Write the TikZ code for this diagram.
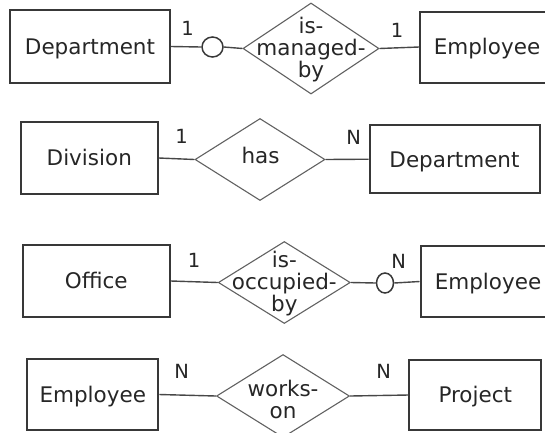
\documentclass[tikz,border=0pt]{standalone}
\usepackage{fontspec}
\setmainfont{DejaVu Sans}
\usetikzlibrary{shapes.geometric}
\begin{document}
\begin{tikzpicture}[x=1pt,y=-1pt,
  entity/.style={draw=black!78, line width=2pt, rectangle, inner sep=0pt,
    text=black!85, font=\fontsize{21.5}{22}\selectfont,
    text height=15.7pt, text depth=0pt},
  rel/.style={draw=black!62, line width=1.1pt, diamond, inner sep=0pt},
  reltext/.style={align=center, inner sep=0pt, text=black!85,
    font=\fontsize{21.5}{22}\selectfont},
  link/.style={draw=black!72, line width=1.4pt},
  ring/.style={draw=black!78, line width=1.5pt, ellipse, inner sep=0pt, fill=white},
  card/.style={inner sep=0pt, text=black!85, font=\fontsize{19.5}{20}\selectfont}]
\useasboundingbox (0,0) rectangle (545,432);
\clip (0,0) rectangle (545,432);

% Department 1 -- is-managed-by -- 1 Employee
\node[entity, minimum width=160pt, minimum height=73pt] (dep1) at (90,46.5) {Department};
\node[ring, minimum width=21pt, minimum height=20pt] (c1) at (212.5,47) {};
\node[rel, minimum width=136pt, minimum height=91pt] (d1) at (311,48.5) {};
\node[reltext] (t1) at (311,49.5) {is-\\managed-\\by};
\node[entity, minimum width=134pt, minimum height=71pt] (emp1) at (487,47) {Employee};
\draw[link] (dep1.east) -- (c1.west);
\draw[link] (c1.east) -- (d1.west);
\draw[link] (d1.east) -- (emp1.west);
\node[card] (k1a) at (187.5,28.3) {1};
\node[card] (k1b) at (397,30) {1};

% Division 1 -- has -- N Department
\node[entity, minimum width=137pt, minimum height=72pt] (div) at (89.3,158) {Division};
\node[rel, minimum width=130pt, minimum height=82pt] (d2) at (260,159.5) {};
\node[reltext] (t2) at (260.5,155.5) {has};
\node[entity, minimum width=170pt, minimum height=68pt] (dep2) at (454.5,159.2) {Department};
\draw[link] (div.east) -- (d2.west);
\draw[link] (d2.east) -- (dep2.west);
\node[card] (k2a) at (181.7,136.7) {1};
\node[card] (k2b) at (353.7,137.5) {N};

% Office 1 -- is-occupied-by -- N Employee
\node[entity, minimum width=147pt, minimum height=72pt] (off) at (96.3,281) {Office};
\node[rel, minimum width=132pt, minimum height=82pt] (d3) at (284.3,282.5) {};
\node[reltext] (t3) at (284.3,283.5) {is-\\occupied-\\by};
\node[ring, minimum width=17pt, minimum height=20pt] (c3) at (385,283) {};
\node[entity, minimum width=135pt, minimum height=71pt] (emp3) at (488,281.5) {Employee};
\draw[link] (off.east) -- (d3.west);
\draw[link] (d3.east) -- (c3.west);
\draw[link] (c3.east) -- (emp3.west);
\node[card] (k3a) at (194,260.3) {1};
\node[card] (k3b) at (398.7,261) {N};

% Employee N -- works-on -- N Project
\node[entity, minimum width=131pt, minimum height=71pt] (emp4) at (92.8,394.5) {Employee};
\node[rel, minimum width=133pt, minimum height=83pt] (d4) at (283,396) {};
\node[reltext] (t4) at (283,399) {works-\\on};
\node[entity, minimum width=132pt, minimum height=70pt] (proj) at (475.3,395) {Project};
\draw[link] (emp4.east) -- (d4.west);
\draw[link] (d4.east) -- (proj.west);
\node[card] (k4a) at (181.7,371) {N};
\node[card] (k4b) at (383.7,371) {N};
\end{tikzpicture}
\end{document}
